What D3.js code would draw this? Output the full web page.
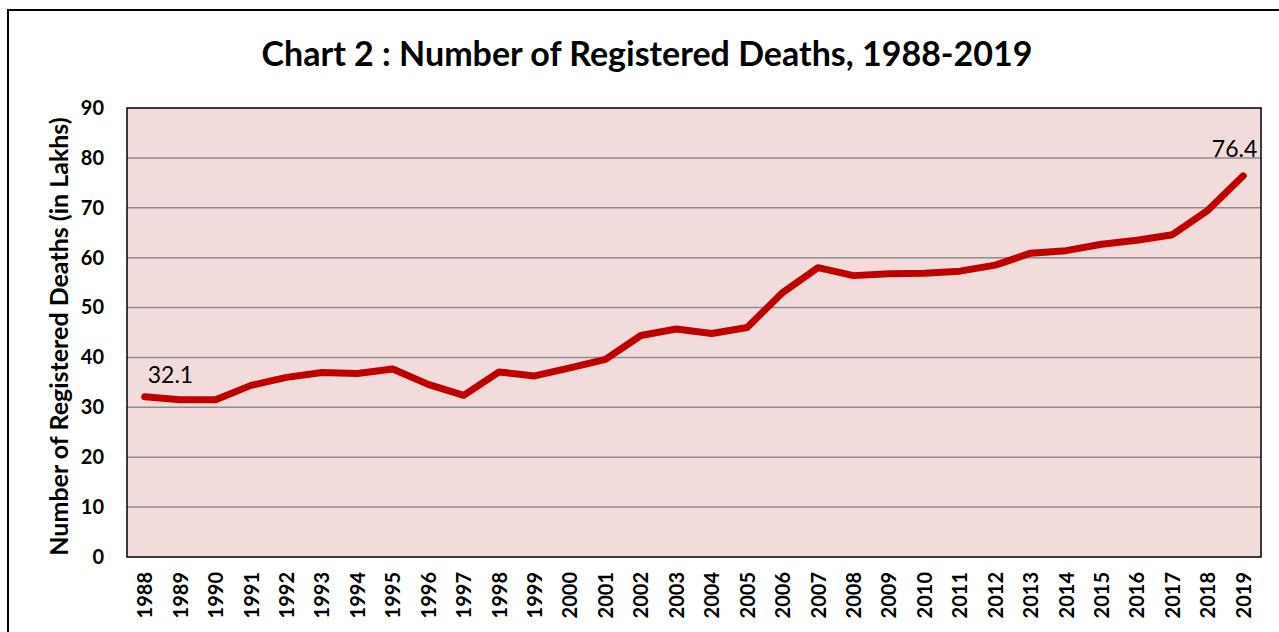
<!DOCTYPE html>
<html>
<head>
<meta charset="utf-8">
<script src="https://cdn.jsdelivr.net/npm/d3@7"></script>
<style>
    body { margin: 0; background: #fff; }
    svg { display: block; }
    text { font-family: Lato, "Open Sans", sans-serif; }
</style>
</head>
<body>
<svg width="1279" height="632"></svg>
<script>
    var years = ["1988", "1989", "1990", "1991", "1992", "1993", "1994", "1995", "1996", "1997",
        "1998", "1999", "2000", "2001", "2002", "2003", "2004", "2005", "2006", "2007",
        "2008", "2009", "2010", "2011", "2012", "2013", "2014", "2015", "2016", "2017",
        "2018", "2019"];
    var deaths = [32.1, 31.5, 31.5, 34.4, 36.0, 37.0, 36.8, 37.7, 34.6, 32.4,
        37.1, 36.3, 37.9, 39.6, 44.4, 45.7, 44.8, 46.0, 53.0, 58.0,
        56.4, 56.8, 56.9, 57.3, 58.5, 60.9, 61.4, 62.7, 63.5, 64.6,
        69.5, 76.4];
    var yTicks = [0, 10, 20, 30, 40, 50, 60, 70, 80, 90];
    var labelled = ["1988", "2019"];

    var svg = d3.select("svg"),
        margin = {top: 108, right: 18, bottom: 75, left: 127},
        width = +svg.attr("width") - margin.left - margin.right,
        height = +svg.attr("height") - margin.top - margin.bottom;

    // outer chart frame (runs off right/bottom edge)
    svg.append("path")
        .attr("d", "M8,640V10H1290")
        .attr("fill", "none")
        .attr("stroke", "#000")
        .attr("stroke-width", 2);

    svg.append("text")
        .attr("x", 647)
        .attr("y", 66)
        .attr("text-anchor", "middle")
        .attr("font-size", 34)
        .attr("font-weight", "bold")
        .text("Chart 2 : Number of Registered Deaths, 1988-2019");

    var g = svg.append("g").attr("transform", "translate(" + margin.left + "," + margin.top + ")");

    var x = d3.scalePoint()
        .domain(years)
        .range([0, width])
        .padding(0.5);

    var y = d3.scaleLinear()
        .domain([0, 90])
        .range([height, 0]);

    g.append("rect")
        .attr("width", width)
        .attr("height", height)
        .attr("fill", "#f2dcdb");

    // gridlines
    g.append("g")
        .selectAll("line")
        .data(yTicks.slice(1, -1))
        .enter().append("line")
        .attr("x1", 0)
        .attr("x2", width)
        .attr("y1", function (d) { return y(d); })
        .attr("y2", function (d) { return y(d); })
        .attr("stroke", "#8c8c8c")
        .attr("stroke-width", 1.5);

    g.append("rect")
        .attr("width", width)
        .attr("height", height)
        .attr("fill", "none")
        .attr("stroke", "#000")
        .attr("stroke-width", 1.5);

    var yAxis = g.append("g")
        .call(d3.axisLeft(y).tickValues(yTicks).tickSize(0).tickPadding(23));
    yAxis.select(".domain").remove();
    yAxis.selectAll("text")
        .attr("font-family", "Lato, sans-serif")
        .attr("font-size", 20)
        .attr("font-weight", "bold")
        .attr("fill", "#000");

    var xAxis = g.append("g")
        .attr("transform", "translate(0," + height + ")")
        .call(d3.axisBottom(x).tickSize(0));
    xAxis.select(".domain").remove();
    xAxis.selectAll("text")
        .attr("font-family", "Lato, sans-serif")
        .attr("font-size", 20)
        .attr("font-weight", "bold")
        .attr("fill", "#000")
        .attr("transform", "rotate(-90)")
        .attr("text-anchor", "end")
        .attr("x", -15)
        .attr("y", 0)
        .attr("dy", "0.35em");

    svg.append("text")
        .attr("transform", "translate(68," + (margin.top + height / 2 + 4) + ") rotate(-90)")
        .attr("text-anchor", "middle")
        .attr("font-size", 25)
        .attr("font-weight", "bold")
        .text("Number of Registered Deaths (in Lakhs)");

    var line = d3.line()
        .x(function (d, i) { return x(years[i]); })
        .y(function (d) { return y(d); });

    g.append("path")
        .datum(deaths)
        .attr("fill", "none")
        .attr("stroke", "#c00000")
        .attr("stroke-width", 7)
        .attr("stroke-linejoin", "round")
        .attr("stroke-linecap", "round")
        .attr("d", line);

    g.selectAll(".lbl")
        .data(labelled)
        .enter().append("text")
        .attr("class", "lbl")
        .attr("x", function (d, i) { return i === 0 ? x(d) + 3 : x(d) + 14; })
        .attr("y", function (d, i) { return y(deaths[years.indexOf(d)]) - (i === 0 ? 14 : 19); })
        .attr("text-anchor", function (d, i) { return i === 0 ? "start" : "end"; })
        .attr("font-size", 23)
        .attr("fill", "#000")
        .text(function (d) { return deaths[years.indexOf(d)].toFixed(1); });
</script>
</body>
</html>
